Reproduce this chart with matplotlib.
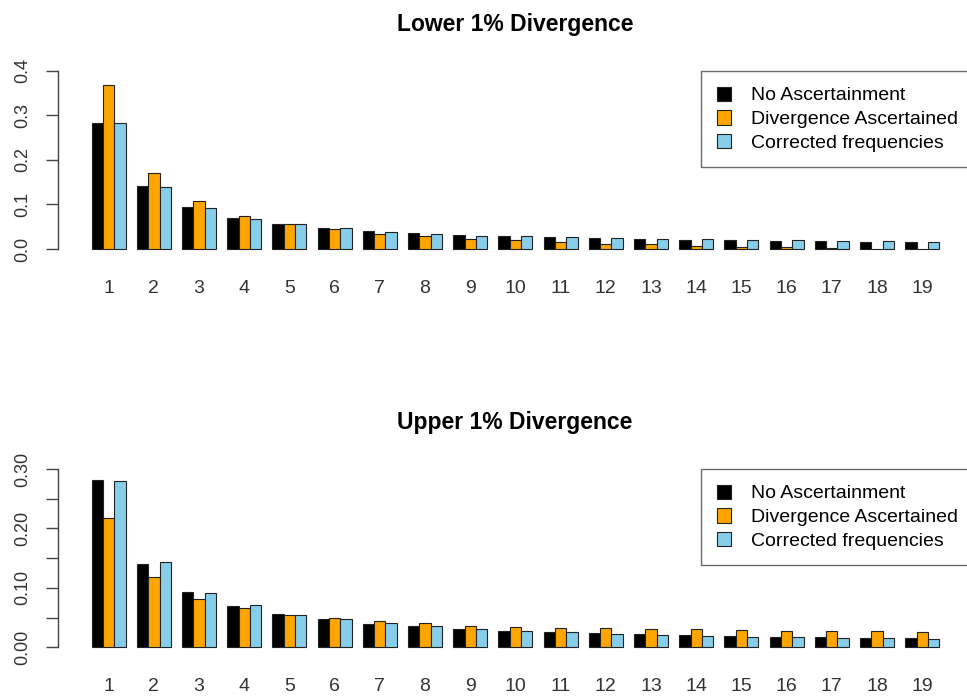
import matplotlib
matplotlib.use("Agg")
import matplotlib.pyplot as plt
from matplotlib.patches import Patch
import numpy as np

plt.rcParams['font.family'] = ['Liberation Sans', 'DejaVu Sans']

sites = [str(i) for i in range(1, 20)]
series_names = ["No Ascertainment", "Divergence Ascertained", "Corrected frequencies"]
colors = ["black", "orange", "skyblue"]

lower_none = [0.282, 0.141, 0.094, 0.070, 0.056, 0.047, 0.040, 0.035, 0.031, 0.028,
              0.026, 0.024, 0.022, 0.020, 0.019, 0.018, 0.017, 0.016, 0.015]
lower_asc = [0.368, 0.171, 0.108, 0.075, 0.056, 0.045, 0.034, 0.028, 0.022, 0.019,
             0.015, 0.011, 0.010, 0.007, 0.005, 0.004, 0.002, 0.001, 0.001]
lower_cor = [0.283, 0.140, 0.093, 0.068, 0.055, 0.047, 0.038, 0.034, 0.030, 0.029,
             0.027, 0.025, 0.023, 0.022, 0.020, 0.019, 0.018, 0.017, 0.016]

upper_none = [0.282, 0.140, 0.093, 0.070, 0.056, 0.047, 0.040, 0.035, 0.031, 0.028,
              0.026, 0.024, 0.022, 0.020, 0.019, 0.018, 0.017, 0.016, 0.015]
upper_asc = [0.217, 0.118, 0.081, 0.066, 0.055, 0.049, 0.044, 0.041, 0.036, 0.034,
             0.033, 0.032, 0.031, 0.030, 0.029, 0.028, 0.027, 0.027, 0.026]
upper_cor = [0.280, 0.143, 0.092, 0.071, 0.055, 0.047, 0.041, 0.036, 0.030, 0.027,
             0.025, 0.023, 0.021, 0.019, 0.018, 0.017, 0.016, 0.015, 0.014]

panels = [
    ("Lower 1% Divergence", [lower_none, lower_asc, lower_cor], 0.4, 0.1, 0.1, "%.1f"),
    ("Upper 1% Divergence", [upper_none, upper_asc, upper_cor], 0.3, 0.05, 0.1, "%.2f"),
]

fig = plt.figure(figsize=(9.67, 6.97), dpi=100)
fig.set_facecolor("w")

left, width = 0.0598, 0.9464
bottoms = [0.6326, 0.0611]
height = 0.2762
title_y = [1 - 24 / 697, 1 - 422 / 697]
legend_y = [1 - 71 / 697, 1 - 469 / 697]

for k, (title, series, ymax, step, lab_step, fmt) in enumerate(panels):
    ax = fig.add_axes([left, bottoms[k], width, height])
    n = len(sites)
    base = np.arange(n) * 4 + 1  # R barplot beside=TRUE, space=c(0,1)
    for j, vals in enumerate(series):
        ax.bar(base + j + 0.5, vals, width=1.0, color=colors[j],
               edgecolor="#222222", linewidth=0.8)
    ax.set_xlim(-2, 79)
    pad = ymax * 0.04
    ax.set_ylim(-pad, ymax + pad)
    for s in ["top", "right", "bottom"]:
        ax.spines[s].set_visible(False)
    ax.spines["left"].set_bounds(0, ymax)
    ax.spines["left"].set_color("#444444")
    ax.spines["left"].set_linewidth(1.0)
    ticks = np.arange(0, ymax + 1e-9, step)
    ax.set_yticks(ticks)
    labels = []
    for t in ticks:
        if abs(round(t / lab_step) * lab_step - t) < 1e-9:
            labels.append(fmt % t)
        else:
            labels.append("")
    ax.set_yticklabels(labels, rotation=90, va="center", fontsize=13, color="#333333")
    ax.tick_params(axis="y", length=9, width=1.0, color="#444444", pad=10)
    ax.set_xticks(base + 1.5)
    ax.set_xticklabels(sites, fontsize=14, color="#333333")
    ax.tick_params(axis="x", length=0, pad=17)

    fig.text(515 / 967, title_y[k], title, ha="center", va="center",
             fontsize=16.5, fontweight="bold")

    handles = [Patch(facecolor=c, edgecolor="#222222", linewidth=0.8) for c in colors]
    leg = fig.legend(handles, series_names, loc="upper left",
                     bbox_to_anchor=(701 / 967, legend_y[k]),
                     bbox_transform=fig.transFigure,
                     fontsize=14, frameon=True, fancybox=False,
                     handlelength=0.75, handleheight=0.75, handletextpad=1.0,
                     labelspacing=0.3, borderpad=0.8, borderaxespad=0)
    leg.get_frame().set_edgecolor("#444444")
    leg.get_frame().set_linewidth(1.0)

fig.savefig("out.png", dpi=100)
